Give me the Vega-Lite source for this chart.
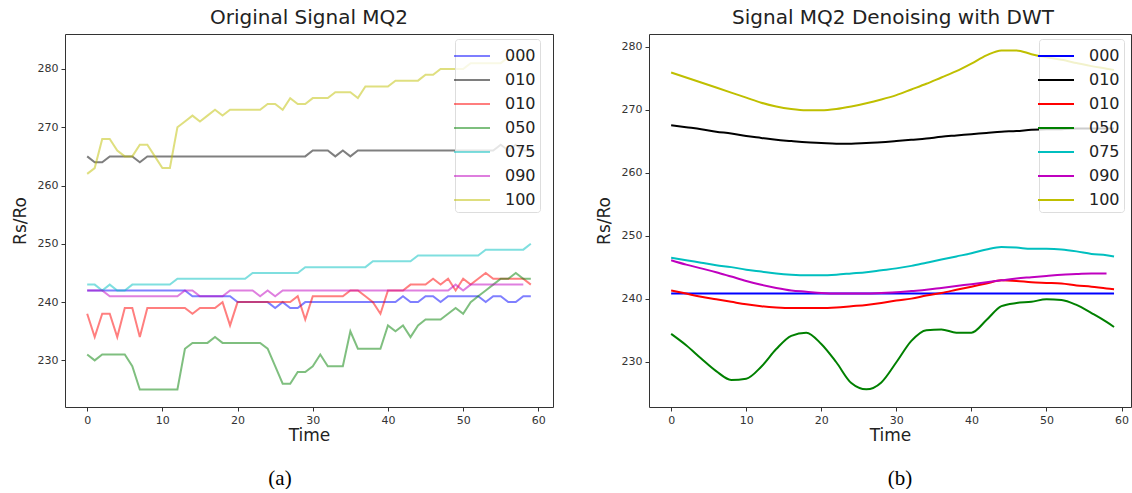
{
 "$schema": "https://vega.github.io/schema/vega-lite/v6.json",
 "background": "white",
 "padding": {"left": 10, "top": 7, "right": 0, "bottom": 0},
 "spacing": 40,
 "config": {
  "font": "DejaVu Sans",
  "view": {"stroke": "#333", "strokeWidth": 1},
  "axis": {"grid": false, "domain": false, "tickColor": "#333", "tickSize": 4, "labelFont": "DejaVu Sans", "labelFontSize": 11, "labelColor": "#333", "titleFont": "DejaVu Sans", "titleFontSize": 17, "titleFontWeight": "normal", "titleColor": "#222", "labelPadding": 3},
  "axisX": {"titlePadding": 2},
  "axisY": {"titlePadding": 8}
 },
 "datasets": {
  "left": [
   {"t":0,"a":242,"b":265,"c":238,"d":231,"e":243,"f":242,"g":262},
   {"t":1,"a":242,"b":264,"c":234,"d":230,"e":243,"f":242,"g":263},
   {"t":2,"a":242,"b":264,"c":238,"d":231,"e":242,"f":242,"g":268},
   {"t":3,"a":242,"b":265,"c":238,"d":231,"e":243,"f":241,"g":268},
   {"t":4,"a":242,"b":265,"c":234,"d":231,"e":242,"f":241,"g":266},
   {"t":5,"a":242,"b":265,"c":239,"d":231,"e":242,"f":241,"g":265},
   {"t":6,"a":242,"b":265,"c":239,"d":229,"e":243,"f":241,"g":265},
   {"t":7,"a":242,"b":264,"c":234,"d":225,"e":243,"f":241,"g":267},
   {"t":8,"a":242,"b":265,"c":239,"d":225,"e":243,"f":241,"g":267},
   {"t":9,"a":242,"b":265,"c":239,"d":225,"e":243,"f":241,"g":265},
   {"t":10,"a":242,"b":265,"c":239,"d":225,"e":243,"f":241,"g":263},
   {"t":11,"a":242,"b":265,"c":239,"d":225,"e":243,"f":241,"g":263},
   {"t":12,"a":242,"b":265,"c":239,"d":225,"e":244,"f":241,"g":270},
   {"t":13,"a":242,"b":265,"c":239,"d":232,"e":244,"f":242,"g":271},
   {"t":14,"a":241,"b":265,"c":238,"d":233,"e":244,"f":242,"g":272},
   {"t":15,"a":241,"b":265,"c":239,"d":233,"e":244,"f":241,"g":271},
   {"t":16,"a":241,"b":265,"c":239,"d":233,"e":244,"f":241,"g":272},
   {"t":17,"a":241,"b":265,"c":239,"d":234,"e":244,"f":241,"g":273},
   {"t":18,"a":241,"b":265,"c":240,"d":233,"e":244,"f":241,"g":272},
   {"t":19,"a":241,"b":265,"c":236,"d":233,"e":244,"f":242,"g":273},
   {"t":20,"a":240,"b":265,"c":240,"d":233,"e":244,"f":242,"g":273},
   {"t":21,"a":240,"b":265,"c":240,"d":233,"e":244,"f":242,"g":273},
   {"t":22,"a":240,"b":265,"c":240,"d":233,"e":245,"f":242,"g":273},
   {"t":23,"a":240,"b":265,"c":240,"d":233,"e":245,"f":241,"g":273},
   {"t":24,"a":240,"b":265,"c":240,"d":232,"e":245,"f":242,"g":274},
   {"t":25,"a":239,"b":265,"c":240,"d":229,"e":245,"f":241,"g":274},
   {"t":26,"a":240,"b":265,"c":240,"d":226,"e":245,"f":242,"g":273},
   {"t":27,"a":239,"b":265,"c":240,"d":226,"e":245,"f":242,"g":275},
   {"t":28,"a":239,"b":265,"c":241,"d":228,"e":245,"f":242,"g":274},
   {"t":29,"a":240,"b":265,"c":237,"d":228,"e":246,"f":242,"g":274},
   {"t":30,"a":240,"b":266,"c":241,"d":229,"e":246,"f":242,"g":275},
   {"t":31,"a":240,"b":266,"c":241,"d":231,"e":246,"f":242,"g":275},
   {"t":32,"a":240,"b":266,"c":241,"d":229,"e":246,"f":242,"g":275},
   {"t":33,"a":240,"b":265,"c":241,"d":229,"e":246,"f":242,"g":276},
   {"t":34,"a":240,"b":266,"c":241,"d":229,"e":246,"f":242,"g":276},
   {"t":35,"a":240,"b":265,"c":242,"d":235,"e":246,"f":242,"g":276},
   {"t":36,"a":240,"b":266,"c":242,"d":232,"e":246,"f":242,"g":275},
   {"t":37,"a":240,"b":266,"c":241,"d":232,"e":246,"f":242,"g":277},
   {"t":38,"a":240,"b":266,"c":240,"d":232,"e":247,"f":242,"g":277},
   {"t":39,"a":240,"b":266,"c":238,"d":232,"e":247,"f":242,"g":277},
   {"t":40,"a":240,"b":266,"c":242,"d":236,"e":247,"f":242,"g":277},
   {"t":41,"a":240,"b":266,"c":242,"d":235,"e":247,"f":242,"g":278},
   {"t":42,"a":241,"b":266,"c":242,"d":236,"e":247,"f":242,"g":278},
   {"t":43,"a":240,"b":266,"c":243,"d":234,"e":247,"f":242,"g":278},
   {"t":44,"a":240,"b":266,"c":243,"d":236,"e":248,"f":242,"g":278},
   {"t":45,"a":241,"b":266,"c":243,"d":237,"e":248,"f":242,"g":279},
   {"t":46,"a":241,"b":266,"c":244,"d":237,"e":248,"f":242,"g":279},
   {"t":47,"a":240,"b":266,"c":243,"d":237,"e":248,"f":242,"g":280},
   {"t":48,"a":241,"b":266,"c":244,"d":238,"e":248,"f":242,"g":280},
   {"t":49,"a":241,"b":266,"c":242,"d":239,"e":248,"f":243,"g":280},
   {"t":50,"a":241,"b":266,"c":244,"d":238,"e":248,"f":242,"g":280},
   {"t":51,"a":241,"b":266,"c":243,"d":240,"e":248,"f":243,"g":281},
   {"t":52,"a":241,"b":266,"c":244,"d":241,"e":248,"f":243,"g":281},
   {"t":53,"a":240,"b":266,"c":245,"d":242,"e":249,"f":243,"g":281},
   {"t":54,"a":241,"b":266,"c":244,"d":243,"e":249,"f":243,"g":281},
   {"t":55,"a":241,"b":267,"c":244,"d":244,"e":249,"f":243,"g":281},
   {"t":56,"a":240,"b":266,"c":244,"d":244,"e":249,"f":243,"g":282},
   {"t":57,"a":240,"b":267,"c":244,"d":245,"e":249,"f":243,"g":282},
   {"t":58,"a":241,"b":266,"c":244,"d":244,"e":249,"f":243,"g":282},
   {"t":59,"a":241,"b":266,"c":243,"d":244,"e":250,"f":null,"g":283}
  ],
  "right": [
   {"t":0,"a":240.8,"b":267.5,"c":241.3,"d":234.4,"e":246.5,"f":246.1,"g":275.9},
   {"t":2,"a":240.8,"b":267.2,"c":240.8,"d":232.6,"e":246.1,"f":245.4,"g":275.1},
   {"t":4,"a":240.8,"b":266.9,"c":240.3,"d":230.5,"e":245.7,"f":244.8,"g":274.3},
   {"t":6,"a":240.8,"b":266.5,"c":239.9,"d":228.5,"e":245.3,"f":244.2,"g":273.5},
   {"t":8,"a":240.8,"b":266.2,"c":239.5,"d":227.1,"e":245.0,"f":243.5,"g":272.7},
   {"t":10,"a":240.8,"b":265.8,"c":239.1,"d":227.3,"e":244.6,"f":242.8,"g":271.9},
   {"t":12,"a":240.8,"b":265.5,"c":238.8,"d":229.2,"e":244.3,"f":242.2,"g":271.1},
   {"t":14,"a":240.8,"b":265.2,"c":238.6,"d":232.0,"e":244.0,"f":241.7,"g":270.5},
   {"t":16,"a":240.8,"b":265.0,"c":238.5,"d":234.1,"e":243.8,"f":241.3,"g":270.1},
   {"t":18,"a":240.8,"b":264.8,"c":238.5,"d":234.6,"e":243.7,"f":241.1,"g":269.9},
   {"t":20,"a":240.8,"b":264.7,"c":238.5,"d":232.8,"e":243.7,"f":240.9,"g":269.9},
   {"t":22,"a":240.8,"b":264.6,"c":238.6,"d":229.9,"e":243.8,"f":240.8,"g":270.1},
   {"t":24,"a":240.8,"b":264.6,"c":238.8,"d":226.6,"e":244.0,"f":240.8,"g":270.5},
   {"t":26,"a":240.8,"b":264.7,"c":239.0,"d":225.6,"e":244.2,"f":240.8,"g":271.0},
   {"t":28,"a":240.8,"b":264.8,"c":239.3,"d":226.7,"e":244.5,"f":240.9,"g":271.6},
   {"t":30,"a":240.8,"b":265.0,"c":239.7,"d":229.9,"e":244.8,"f":241.0,"g":272.3},
   {"t":32,"a":240.8,"b":265.2,"c":240.0,"d":233.3,"e":245.2,"f":241.2,"g":273.2},
   {"t":34,"a":240.8,"b":265.4,"c":240.5,"d":235.0,"e":245.7,"f":241.4,"g":274.1},
   {"t":36,"a":240.8,"b":265.7,"c":240.9,"d":235.1,"e":246.2,"f":241.7,"g":275.1},
   {"t":38,"a":240.8,"b":265.9,"c":241.4,"d":234.6,"e":246.7,"f":242.0,"g":276.1},
   {"t":40,"a":240.8,"b":266.1,"c":241.9,"d":234.6,"e":247.2,"f":242.3,"g":277.3},
   {"t":42,"a":240.8,"b":266.3,"c":242.4,"d":236.6,"e":247.8,"f":242.6,"g":278.6},
   {"t":44,"a":240.8,"b":266.5,"c":242.9,"d":238.8,"e":248.2,"f":242.9,"g":279.4},
   {"t":46,"a":240.8,"b":266.6,"c":242.8,"d":239.3,"e":248.1,"f":243.2,"g":279.4},
   {"t":48,"a":240.8,"b":266.8,"c":242.6,"d":239.5,"e":247.9,"f":243.4,"g":278.8},
   {"t":50,"a":240.8,"b":266.9,"c":242.5,"d":239.9,"e":247.9,"f":243.6,"g":278.3},
   {"t":52,"a":240.8,"b":266.9,"c":242.4,"d":239.8,"e":247.8,"f":243.8,"g":277.9},
   {"t":54,"a":240.8,"b":267.0,"c":242.1,"d":239.0,"e":247.5,"f":243.9,"g":277.4},
   {"t":56,"a":240.8,"b":267.0,"c":241.9,"d":237.7,"e":247.1,"f":244.0,"g":276.9},
   {"t":58,"a":240.8,"b":267.0,"c":241.6,"d":236.3,"e":246.9,"f":244.0,"g":276.5},
   {"t":59,"a":240.8,"b":267.0,"c":241.5,"d":235.5,"e":246.7,"f":null,"g":276.3}
  ]
 },
 "hconcat": [
  {
   "title": {"text": "(a)", "orient": "bottom", "font": "Liberation Serif", "fontSize": 21, "fontWeight": "normal", "color": "black", "anchor": "middle", "offset": 24, "dx": -2},
   "resolve": {"scale": {"color": "independent"}, "legend": {"color": "independent"}},
   "vconcat": [
    {
     "title": {"text": "Original Signal MQ2", "fontSize": 20, "fontWeight": "normal", "anchor": "middle", "frame": "group", "offset": 6, "font": "DejaVu Sans", "color": "#222"},
     "width": 488, "height": 373,
     "data": {"name": "left"},
     "transform": [{"fold": ["a","b","c","d","e","f","g"], "as": ["s","v"]}, {"filter": "isValid(datum.v)"}],
     "mark": {"type": "line", "strokeWidth": 2, "opacity": 0.5, "clip": true},
     "encoding": {
      "x": {"field": "t", "type": "quantitative", "scale": {"domain": [-2.95, 61.95], "nice": false, "zero": false}, "axis": {"values": [0,10,20,30,40,50,60], "title": "Time"}},
      "y": {"field": "v", "type": "quantitative", "scale": {"domain": [222, 286], "nice": false, "zero": false}, "axis": {"values": [230,240,250,260,270,280], "title": "Rs/Ro"}},
      "color": {"field": "s", "type": "nominal", "scale": {"domain": ["a","b","c","d","e","f","g"], "range": ["#0000ff","#000000","#ff0000","#008000","#00bfbf","#bf00bf","#bfbf00"]},
       "legend": {"orient": "none", "legendX": 390, "legendY": 5, "title": null, "labelExpr": "['000','010','010','050','075','090','100'][indexof(['a','b','c','d','e','f','g'], datum.label)]", "symbolType": "M-1.5,0H1.5", "symbolSize": 576, "symbolStrokeWidth": 2, "symbolOpacity": 0.5, "labelFontSize": 16, "labelFont": "DejaVu Sans", "labelColor": "#222", "fillColor": "rgba(255,255,255,0.8)", "strokeColor": "#ddd", "cornerRadius": 3, "padding": 4, "rowPadding": 3, "labelOffset": 20}}
     }
    }
   ]
  },
  {
   "title": {"text": "(b)", "orient": "bottom", "font": "Liberation Serif", "fontSize": 21, "fontWeight": "normal", "color": "black", "anchor": "middle", "offset": 24, "dx": 37},
   "resolve": {"scale": {"color": "independent"}, "legend": {"color": "independent"}},
   "vconcat": [
    {
     "title": {"text": "Signal MQ2 Denoising with DWT", "fontSize": 20, "fontWeight": "normal", "anchor": "middle", "frame": "group", "offset": 6, "font": "DejaVu Sans", "color": "#222", "dx": 3},
     "width": 482, "height": 373,
     "data": {"name": "right"},
     "transform": [{"fold": ["a","b","c","d","e","f","g"], "as": ["s","v"]}, {"filter": "isValid(datum.v)"}],
     "mark": {"type": "line", "strokeWidth": 2, "interpolate": "monotone", "clip": true},
     "encoding": {
      "x": {"field": "t", "type": "quantitative", "scale": {"domain": [-2.95, 61.26], "nice": false, "zero": false}, "axis": {"values": [0,10,20,30,40,50,60], "title": "Time"}},
      "y": {"field": "v", "type": "quantitative", "scale": {"domain": [222.8, 282], "nice": false, "zero": false}, "axis": {"values": [230,240,250,260,270,280], "title": "Rs/Ro"}},
      "color": {"field": "s", "type": "nominal", "scale": {"domain": ["a","b","c","d","e","f","g"], "range": ["#0000ff","#000000","#ff0000","#008000","#00bfbf","#bf00bf","#bfbf00"]},
       "legend": {"orient": "none", "legendX": 390, "legendY": 5, "title": null, "labelExpr": "['000','010','010','050','075','090','100'][indexof(['a','b','c','d','e','f','g'], datum.label)]", "symbolType": "M-1.5,0H1.5", "symbolSize": 576, "symbolStrokeWidth": 2, "labelFontSize": 16, "labelFont": "DejaVu Sans", "labelColor": "#222", "fillColor": "rgba(255,255,255,0.8)", "strokeColor": "#ddd", "cornerRadius": 3, "padding": 4, "rowPadding": 3, "labelOffset": 20}}
     }
    }
   ]
  }
 ],
 "resolve": {"scale": {"color": "independent"}, "legend": {"color": "independent"}}
}
